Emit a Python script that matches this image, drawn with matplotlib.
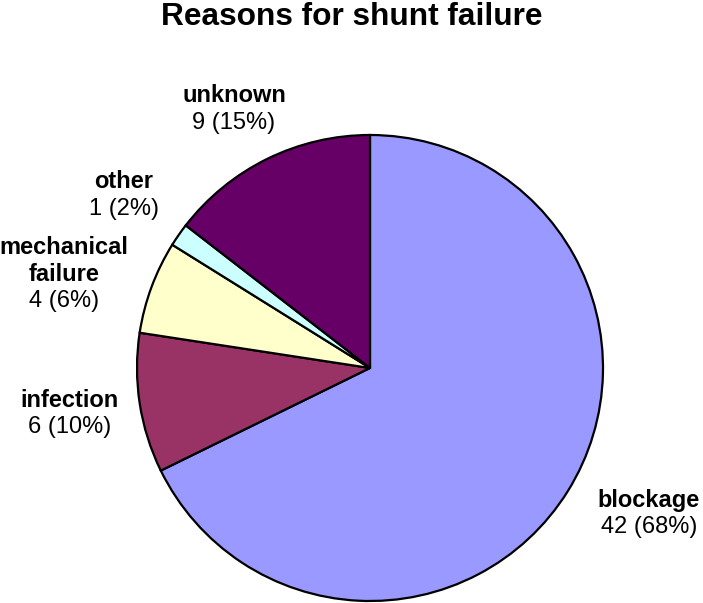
import matplotlib
matplotlib.use("Agg")
import matplotlib.pyplot as plt

categories = ["blockage", "infection", "mechanical\nfailure", "other", "unknown"]
counts = [42, 6, 4, 1, 9]
colors = ["#9999FF", "#993366", "#FFFFCC", "#CCFFFF", "#660066"]

# label anchor positions (pixels: center x, baseline y of first line)
label_pos = {
    "blockage": (649, 507),
    "infection": (70, 407),
    "mechanical\nfailure": (64, 254),
    "other": (124, 188),
    "unknown": (234, 102),
}

W, H = 703, 603
plt.rcParams['font.family'] = ['Liberation Sans', 'DejaVu Sans']
fig = plt.figure(figsize=(W / 100, H / 100), dpi=100)
fig.patch.set_facecolor("white")

cx, cy, r = 370, 368, 233
ax = fig.add_axes([(cx - r) / W, (H - cy - r) / H, 2 * r / W, 2 * r / H])
ax.pie(counts, colors=colors, startangle=90, counterclock=False, radius=1.0,
       wedgeprops=dict(edgecolor="black", linewidth=1.6))
ax.set_xlim(-1.0, 1.0)
ax.set_ylim(-1.0, 1.0)
ax.set_aspect("equal")
ax.axis("off")

total = sum(counts)
line_h = 26.5
for cat, val in zip(categories, counts):
    x, yb = label_pos[cat]
    lines = cat.split("\n")
    for i, ln in enumerate(lines):
        fig.text(x / W, 1 - (yb + i * line_h) / H, ln, ha="center", va="baseline",
                 fontsize=17, fontweight="bold", color="black")
    pct = round(100 * val / total)
    y2 = yb + len(lines) * line_h
    fig.text(x / W, 1 - y2 / H, f"{val} ({pct}%)", ha="center", va="baseline",
             fontsize=17, color="black")

fig.text(352 / W, 1 - 25 / H, "Reasons for shunt failure", ha="center", va="baseline",
         fontsize=22.8, fontweight="bold", color="black")

fig.savefig("out.png", dpi=100, facecolor="white")
